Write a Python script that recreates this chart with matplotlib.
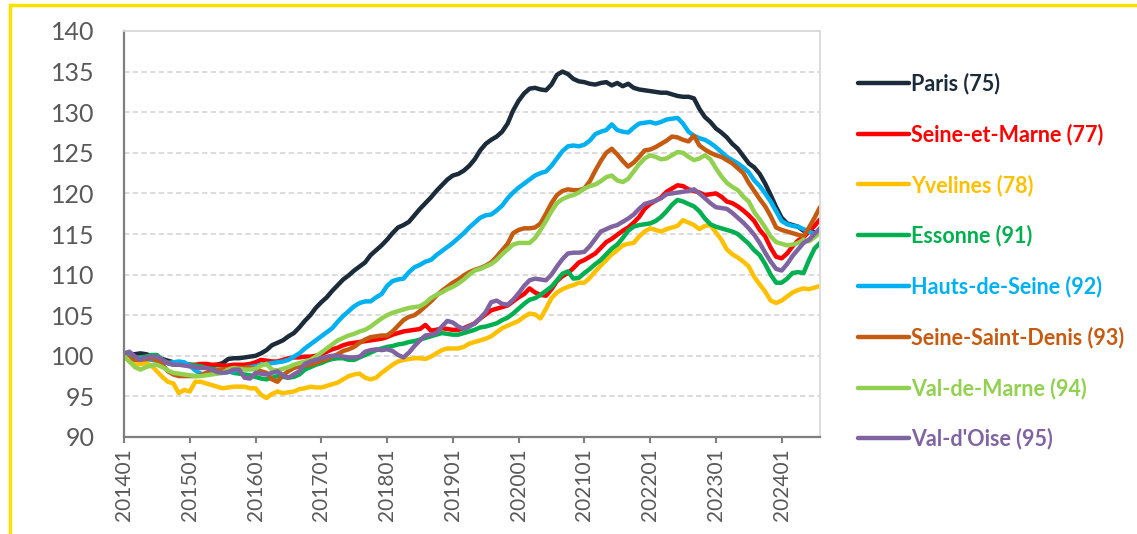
## Price index by departement of Ile-de-France (base 100 = 201401)
import matplotlib.pyplot as plt
from matplotlib.patches import Rectangle

# months 201401 .. 202408
years = list(range(2014, 2025))
months = [f'{y}{m:02d}' for y in years for m in range(1, 13)][:128]

paris = [
    100.0, 100.2, 100.2, 100.3, 100.2, 100.0, 99.8, 99.6, 99.4, 99.2, 99.0, 98.9,
    98.9, 98.7, 98.8, 98.7, 98.8, 98.9, 99.1, 99.6, 99.7, 99.7, 99.8, 99.9,
    100.0, 100.3, 100.7, 101.3, 101.6, 101.9, 102.4, 102.8, 103.5, 104.3, 105.0, 105.9,
    106.6, 107.2, 108.0, 108.7, 109.4, 109.9, 110.5, 111.0, 111.5, 112.4, 113.0, 113.6,
    114.3, 115.1, 115.8, 116.1, 116.5, 117.3, 118.1, 118.8, 119.5, 120.3, 121.0, 121.7,
    122.2, 122.4, 122.8, 123.4, 124.2, 125.3, 126.1, 126.6, 127.0, 127.6, 128.6, 130.2,
    131.4, 132.3, 132.9, 133.0, 132.8, 132.7, 133.4, 134.6, 135.0, 134.7, 134.1, 133.8,
    133.7, 133.5, 133.4, 133.6, 133.7, 133.3, 133.6, 133.2, 133.5, 133.0, 132.8, 132.7,
    132.6, 132.5, 132.4, 132.4, 132.2, 132.0, 131.9, 131.9, 131.7, 130.4, 129.4, 128.8,
    128.0, 127.5, 126.9, 126.1, 125.5, 124.6, 123.7, 123.2, 122.4, 121.2, 119.8, 118.3,
    117.0, 116.3, 116.1, 115.9, 115.4, 115.3, 115.2, 115.3,
]

seine_et_marne = [
    100.0, 99.9, 99.8, 99.8, 99.9, 99.8, 99.6, 99.4, 99.2, 99.0, 98.9, 98.9,
    98.9, 98.9, 99.0, 99.0, 98.9, 98.9, 98.8, 98.8, 98.9, 98.9, 98.9, 99.0,
    99.2, 99.5, 99.4, 99.3, 99.3, 99.5, 99.7, 99.8, 99.8, 99.9, 99.9, 100.0,
    100.2, 100.5, 100.8, 101.0, 101.3, 101.5, 101.6, 101.7, 101.8, 101.9, 102.0, 102.1,
    102.3, 102.6, 102.8, 103.0, 103.1, 103.2, 103.3, 103.8, 103.1, 103.2, 103.4, 103.3,
    103.2, 103.2, 103.4, 103.7, 104.0, 104.6, 105.1, 105.6, 105.8, 106.0, 106.2, 106.7,
    107.2, 107.6, 108.3, 107.8, 107.5, 107.4, 108.2, 109.2, 109.8, 110.2, 110.8, 111.5,
    111.8, 112.2, 112.6, 113.3, 114.0, 114.4, 114.9, 115.4, 115.8, 116.4, 117.1, 118.1,
    118.7, 119.1, 119.5, 120.2, 120.6, 121.0, 120.9, 120.5, 120.3, 120.1, 119.8, 119.9,
    120.0, 119.6, 119.0, 118.8, 118.4, 117.9, 117.3, 116.6, 115.5, 114.7, 113.3, 112.2,
    112.0, 112.6, 113.5, 114.2, 114.6, 115.3, 116.0, 116.8,
]

yvelines = [
    99.9, 99.3, 98.9, 99.0, 99.1, 98.8, 98.1, 97.4, 96.8, 96.6, 95.4, 95.8,
    95.6, 96.8, 96.8, 96.6, 96.4, 96.2, 96.0, 96.1, 96.2, 96.2, 96.2, 96.0,
    96.0, 95.2, 94.8, 95.3, 95.6, 95.4, 95.5, 95.6, 95.9, 96.0, 96.2, 96.1,
    96.1, 96.3, 96.5, 96.7, 97.1, 97.5, 97.7, 97.8, 97.3, 97.1, 97.3, 97.9,
    98.4, 98.9, 99.3, 99.5, 99.6, 99.7, 99.7, 99.6, 99.9, 100.3, 100.7, 100.9,
    100.9, 100.9, 101.1, 101.5, 101.7, 101.9, 102.1, 102.4, 102.9, 103.4, 103.7, 104.0,
    104.3, 104.8, 105.2, 105.1, 104.6, 105.8, 107.1, 107.8, 108.2, 108.5, 108.7, 109.0,
    109.0, 109.6, 110.4, 111.1, 111.8, 112.5, 113.0, 113.6, 113.8, 113.9, 114.7, 115.3,
    115.7, 115.5, 115.3, 115.6, 115.8, 116.0, 116.7, 116.4, 116.1, 115.6, 116.0, 116.1,
    115.2, 114.3, 113.1, 112.5, 112.1, 111.6, 111.0, 109.7, 108.8, 107.9, 106.8, 106.5,
    106.8, 107.3, 107.8, 108.1, 108.3, 108.2, 108.4, 108.6,
]

essonne = [
    100.0, 99.8, 99.7, 99.8, 99.9, 100.1, 100.1, 99.5, 99.1, 98.9, 98.9, 98.9,
    98.9, 98.8, 98.7, 98.5, 98.4, 98.3, 98.3, 98.1, 97.9, 97.8, 97.7, 97.6,
    97.4, 97.2, 97.1, 97.3, 97.5, 97.4, 97.3, 97.4, 97.7, 98.3, 98.6, 98.9,
    99.1, 99.4, 99.6, 99.7, 99.7, 99.5, 99.5, 99.8, 100.1, 100.4, 100.7, 100.9,
    101.1, 101.2, 101.4, 101.5, 101.7, 101.8, 102.0, 102.2, 102.4, 102.6, 102.8, 102.7,
    102.6, 102.6, 102.8, 103.0, 103.2, 103.5, 103.6, 103.8, 104.0, 104.4, 104.7, 105.2,
    105.8, 106.4, 106.9, 107.1, 107.5, 108.0, 108.5, 109.3, 110.1, 110.4, 109.5, 109.6,
    110.2, 110.7, 111.3, 111.8, 112.5, 113.2, 113.7, 114.5, 115.4, 115.9, 116.1, 116.2,
    116.3, 116.6, 117.1, 117.8, 118.6, 119.2, 119.0, 118.7, 118.4, 117.8, 116.9, 116.2,
    115.9, 115.7, 115.5, 115.3, 115.0, 114.4, 113.8, 113.0, 112.4, 111.3, 110.0, 109.0,
    109.0, 109.5, 110.2, 110.3, 110.2, 111.8, 113.2, 113.9,
]

hauts_de_seine = [
    100.0, 99.9, 99.8, 99.7, 99.6, 99.5, 99.4, 99.2, 99.1, 99.2, 99.3, 99.2,
    98.8, 98.2, 97.8, 97.7, 97.8, 97.9, 97.9, 98.0, 98.1, 98.3, 98.5, 98.6,
    98.7, 98.9, 99.0, 99.1, 99.2, 99.3, 99.5, 99.9, 100.3, 100.9, 101.4, 101.9,
    102.4, 102.9, 103.4, 104.2, 104.9, 105.5, 106.1, 106.5, 106.7, 106.7, 107.2, 107.6,
    108.6, 109.2, 109.4, 109.5, 110.3, 110.9, 111.2, 111.6, 111.8, 112.4, 112.9, 113.4,
    113.9, 114.5, 115.1, 115.8, 116.4, 117.0, 117.3, 117.4, 117.9, 118.5, 119.4, 120.1,
    120.7, 121.2, 121.7, 122.2, 122.5, 122.7, 123.4, 124.3, 125.2, 125.8, 125.9, 125.8,
    126.0, 126.5, 127.3, 127.6, 127.8, 128.5, 127.8, 127.6, 127.5, 128.1, 128.6, 128.7,
    128.8, 128.6, 128.8, 129.1, 129.2, 129.3, 128.6, 127.6, 127.1, 126.8, 126.6, 126.2,
    125.7, 125.1, 124.5, 124.1, 123.7, 123.2, 122.6, 121.6, 120.9, 120.0, 119.0, 117.8,
    116.6, 116.2, 116.0, 115.9, 115.6, 115.3, 115.0, 115.1,
]

seine_saint_denis = [
    100.0, 99.7, 99.5, 99.5, 99.6, 99.7, 99.4, 98.9, 98.1, 97.7, 97.5, 97.5,
    97.5, 97.5, 97.6, 97.9, 98.1, 98.2, 98.3, 98.4, 98.5, 98.5, 98.5, 98.5,
    98.4, 98.1, 97.9, 97.1, 96.8, 97.6, 98.1, 98.5, 98.7, 98.8, 98.9, 99.1,
    99.4, 99.6, 99.9, 100.2, 100.6, 100.8, 101.1, 101.6, 102.0, 102.3, 102.4, 102.5,
    102.5, 103.0, 103.7, 104.4, 104.8, 105.0, 105.5, 106.1, 106.7, 107.4, 108.0, 108.5,
    109.0, 109.4, 109.9, 110.3, 110.6, 110.8, 111.1, 111.5, 112.2, 113.0, 113.8, 115.1,
    115.5, 115.7, 115.7, 115.8, 116.3, 117.5, 118.8, 119.8, 120.3, 120.5, 120.4, 120.4,
    120.6, 121.5, 122.8, 124.0, 125.0, 125.5, 124.8, 124.0, 123.3, 123.8, 124.5, 125.3,
    125.4, 125.7, 126.1, 126.5, 127.0, 126.9, 126.6, 126.4, 127.1, 125.9, 125.4, 125.0,
    124.7, 124.5, 124.1, 123.7, 123.1, 122.5, 121.3, 120.3, 119.3, 118.4, 117.2, 115.8,
    115.5, 115.3, 115.1, 114.9, 114.7, 115.8, 117.0, 118.3,
]

val_de_marne = [
    100.0, 99.3, 98.6, 98.3, 98.6, 98.8, 98.9, 98.6, 98.2, 97.9, 97.8, 97.7,
    97.6, 97.5, 97.5, 97.6, 97.7, 97.8, 97.9, 98.3, 98.5, 98.4, 98.3, 98.3,
    98.4, 98.8, 99.0, 98.3, 98.2, 98.4, 98.6, 98.9, 99.1, 99.3, 99.5, 99.9,
    100.4, 100.9, 101.4, 101.9, 102.2, 102.5, 102.7, 103.0, 103.2, 103.6, 104.1, 104.6,
    105.0, 105.3, 105.5, 105.7, 105.9, 106.0, 106.1, 106.5, 107.1, 107.5, 107.8, 108.2,
    108.5, 108.9, 109.4, 110.0, 110.5, 110.7, 111.0, 111.3, 111.8, 112.5, 113.1, 113.7,
    113.9, 113.9, 113.9, 114.5, 115.5, 116.6, 117.8, 118.8, 119.3, 119.6, 119.8, 120.1,
    120.6, 120.9, 121.1, 121.5, 122.0, 122.2, 121.6, 121.4, 121.8, 122.7, 123.6, 124.3,
    124.7, 124.5, 124.2, 124.3, 124.7, 125.1, 125.0, 124.5, 124.1, 124.3, 124.7, 124.2,
    123.1, 122.1, 121.3, 120.8, 120.4, 119.6, 119.0, 117.7, 116.8, 115.8, 114.7, 114.0,
    113.8, 113.6, 113.7, 113.9, 114.3, 114.1, 114.6, 115.2,
]

val_d_oise = [
    100.3, 100.5, 99.9, 99.5, 99.8, 99.9, 99.9, 99.5, 99.1, 98.9, 98.9, 98.8,
    98.7, 98.6, 98.5, 98.5, 98.3, 98.0, 97.9, 98.0, 98.3, 98.3, 97.3, 97.2,
    97.9, 97.8, 97.7, 97.9, 98.1, 97.6, 97.3, 97.7, 98.1, 99.0, 99.3, 99.5,
    99.7, 99.9, 100.0, 100.0, 99.9, 99.8, 99.8, 99.9, 100.5, 100.7, 100.8, 100.7,
    100.8, 100.6, 100.1, 99.8, 100.4, 101.2, 101.9, 102.5, 102.6, 102.8, 103.6, 104.3,
    104.1, 103.6, 103.3, 103.6, 104.0, 104.6, 105.4, 106.6, 106.8, 106.4, 106.3, 106.9,
    107.7, 108.6, 109.3, 109.5, 109.4, 109.3, 110.0, 111.0, 111.9, 112.6, 112.7, 112.7,
    112.8, 113.5, 114.4, 115.3, 115.6, 115.9, 116.1, 116.5, 116.9, 117.4, 118.1, 118.7,
    118.9, 119.1, 119.4, 119.9, 120.0, 120.1, 120.2, 120.3, 120.5, 120.0, 119.4, 118.8,
    118.3, 118.2, 118.1, 117.6, 117.0, 116.4, 115.7, 114.9, 113.9, 112.7, 111.6, 110.7,
    110.5, 111.3, 112.3, 113.1, 113.9, 114.3, 115.0, 115.7,
]

labels = ['Paris (75)', 'Seine-et-Marne (77)', 'Yvelines (78)', 'Essonne (91)',
          'Hauts-de-Seine (92)', 'Seine-Saint-Denis (93)', 'Val-de-Marne (94)',
          "Val-d'Oise (95)"]
series = [paris, seine_et_marne, yvelines, essonne,
          hauts_de_seine, seine_saint_denis, val_de_marne, val_d_oise]
colors = ['#1C2B39', '#FF0000', '#FFC000', '#00B050',
          '#00B0F0', '#C55A11', '#92D050', '#8064A2']

plt.rcParams['font.family'] = ['Lato', 'DejaVu Sans']

fig = plt.figure(figsize=(11.37, 5.34), dpi=100)
ax = fig.add_axes([124 / 1137, 97 / 534, 696 / 1137, 406 / 534])

x = list(range(len(months)))
lines = []
for values, label, color in zip(series, labels, colors):
    ln, = ax.plot(x, values, color=color, lw=3.2, label=label,
                  solid_joinstyle='round', solid_capstyle='round')
    lines.append(ln)

# axes and ticks
ax.set_xlim(0, len(months) - 1)
ax.set_ylim(90, 140)
ax.set_yticks(range(90, 141, 5))
jan = [i for i, m in enumerate(months) if m.endswith('01')]
ax.set_xticks(jan)
ax.set_xticklabels([months[i] for i in jan], rotation=90)

ax.tick_params(axis='y', length=0, pad=21, labelsize=18, labelcolor='#595959')
ax.tick_params(axis='x', length=4.3, width=1.5, color='#7F7F7F', pad=4,
               labelsize=15, labelcolor='#595959')

ax.yaxis.grid(True, color='#D9D9D9', lw=1.3, dashes=(3, 1.8))
ax.set_axisbelow(True)

for side in ['left', 'bottom']:
    ax.spines[side].set_color('#7F7F7F')
    ax.spines[side].set_linewidth(1.6)
for side in ['top', 'right']:
    ax.spines[side].set_color('#D9D9D9')
    ax.spines[side].set_linewidth(1.3)

# legend on the right, text in the series colour
leg = ax.legend(handles=lines, loc='upper left',
                bbox_to_anchor=(847 / 1137, 1 - 62 / 534),
                bbox_transform=fig.transFigure, frameon=False,
                prop={'weight': 'bold', 'size': 15.5},
                handlelength=2.37, handletextpad=0.12,
                labelspacing=1.35, borderpad=0)
for text, ln in zip(leg.get_texts(), lines):
    text.set_color(ln.get_color())

# yellow frame around the chart
frame = Rectangle((10 / 1137, -0.2), 1.2, 1.2 - 5 / 534,
                  transform=fig.transFigure, fill=False,
                  edgecolor='#FFE100', lw=2.5, clip_on=False)
fig.patches.append(frame)

plt.savefig('out.png', dpi=100)
